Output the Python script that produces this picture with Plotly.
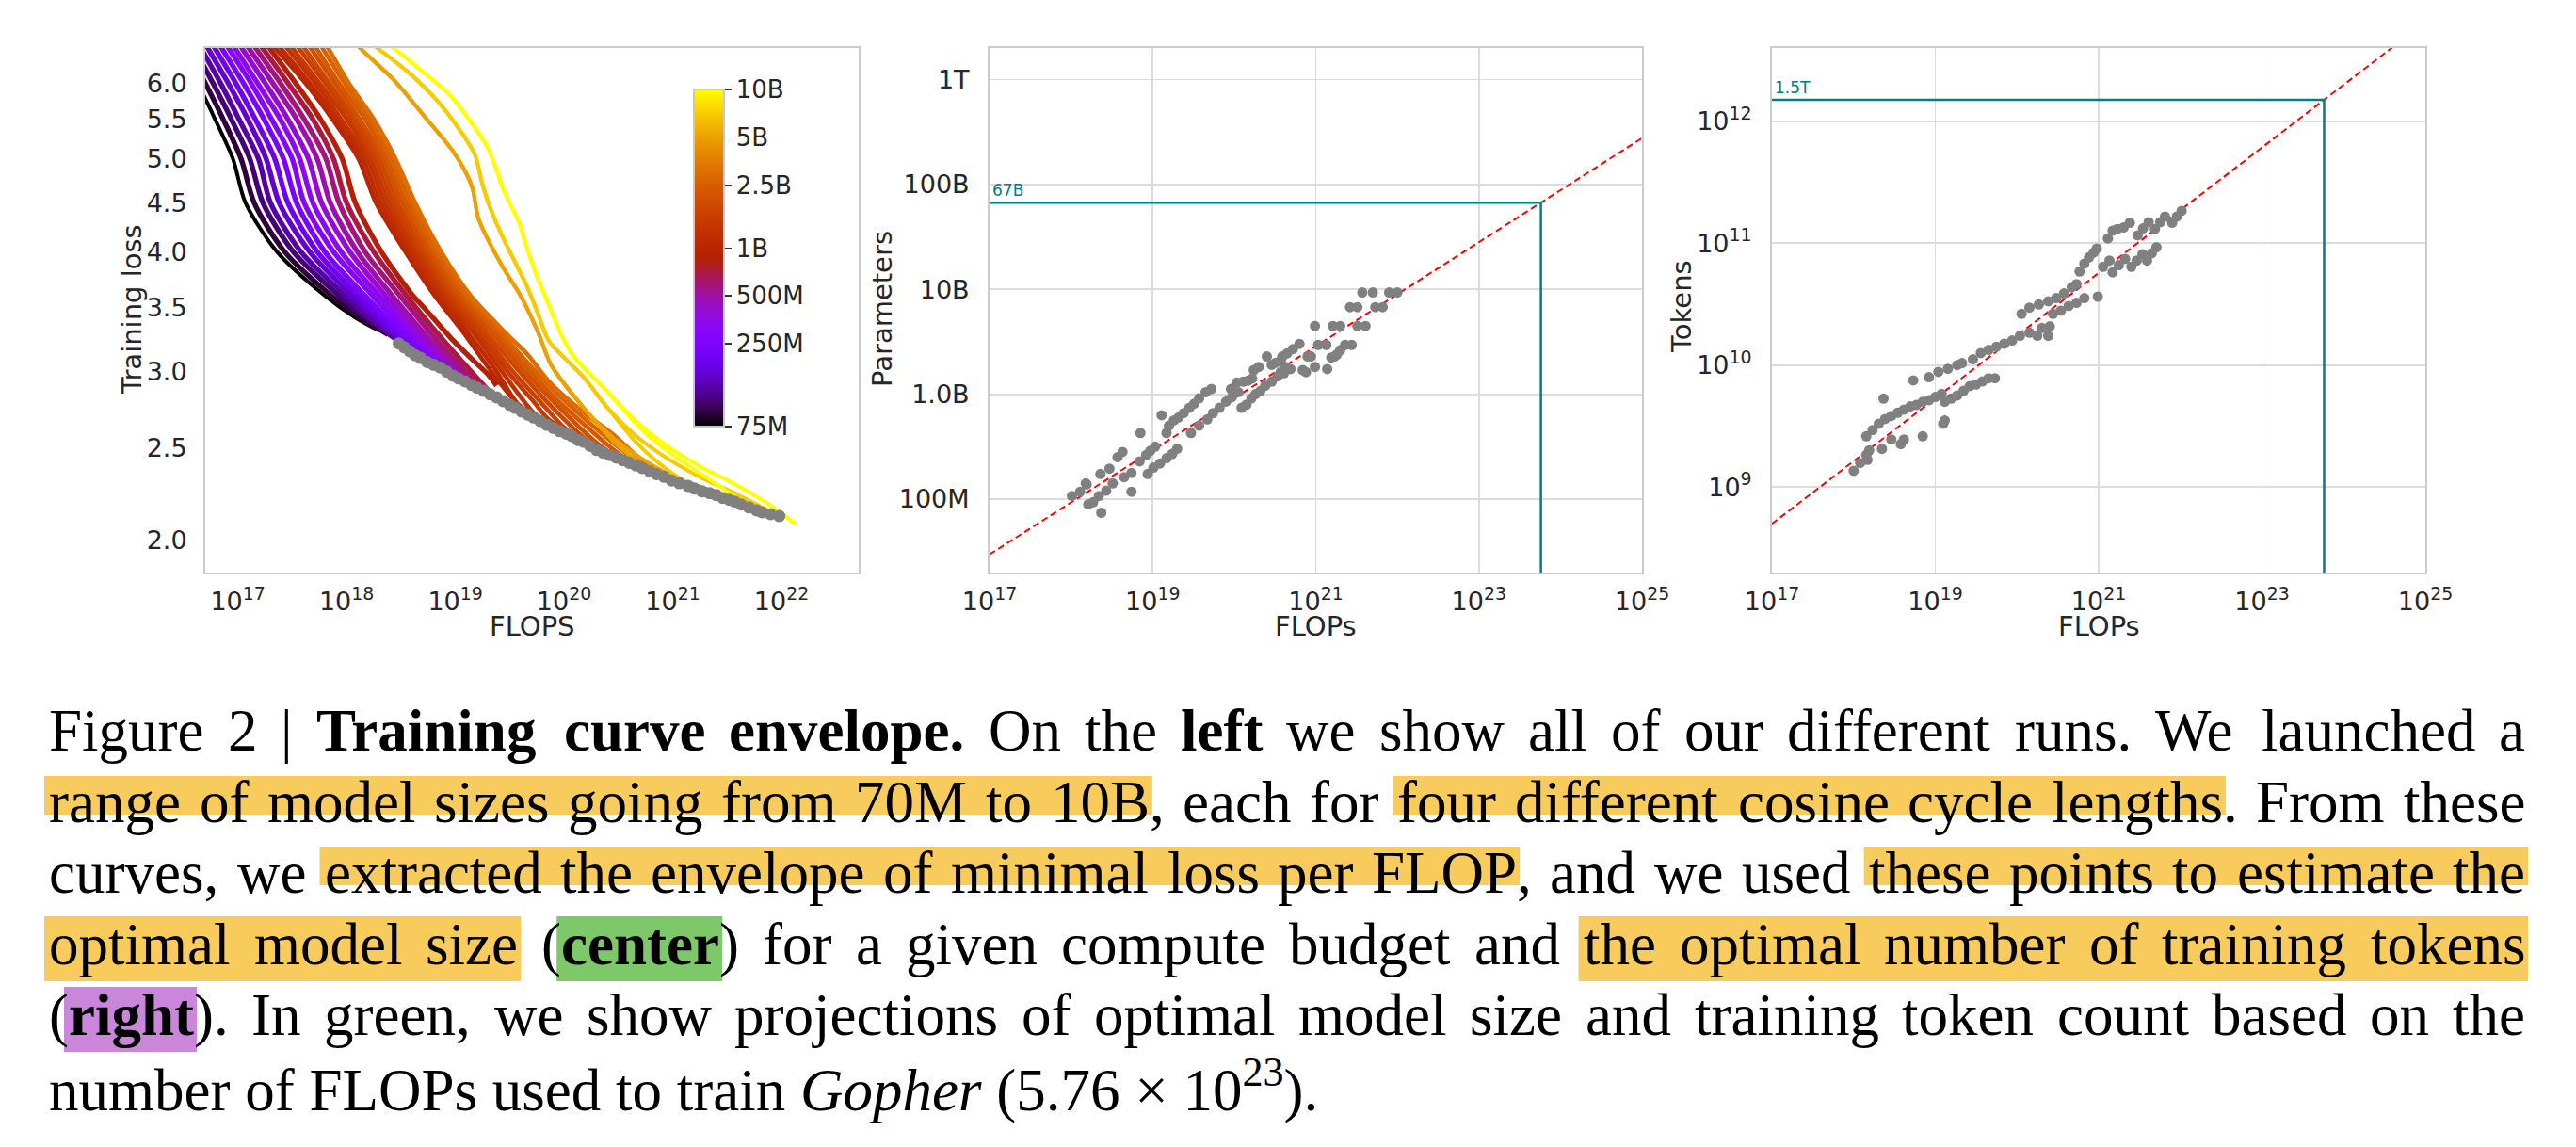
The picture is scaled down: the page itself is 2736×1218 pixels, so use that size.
import math
import re
import plotly.graph_objects as go

W, H = 2736, 1218

# ---------------- LEFT PANEL DATA ----------------
UPPER_LOSS_LEVELS = [6.8, 6.0, 5.5, 5.0, 4.5, 4.0, 3.6]

C1_SIZES_M = [75, 90, 109, 131, 158, 191, 230, 277, 334, 402, 485, 584, 704, 850]
C1_UPPER_LOG_FLOPS = [
    [16.39, 16.63, 16.79, 16.955, 17.07, 17.36, 17.80],
    [16.45, 16.70, 16.865, 17.03, 17.15, 17.43, 17.86],
    [16.51, 16.77, 16.94, 17.11, 17.23, 17.51, 17.93],
    [16.57, 16.84, 17.01, 17.19, 17.30, 17.58, 17.99],
    [16.63, 16.91, 17.09, 17.26, 17.38, 17.66, 18.05],
    [16.69, 16.98, 17.16, 17.34, 17.46, 17.73, 18.11],
    [16.75, 17.05, 17.24, 17.42, 17.54, 17.80, 18.17],
    [16.81, 17.12, 17.31, 17.50, 17.61, 17.88, 18.24],
    [16.87, 17.18, 17.39, 17.57, 17.69, 17.95, 18.30],
    [16.93, 17.25, 17.46, 17.65, 17.77, 18.03, 18.36],
    [16.99, 17.32, 17.54, 17.73, 17.85, 18.10, 18.42],
    [17.05, 17.39, 17.61, 17.81, 17.93, 18.17, 18.49],
    [17.11, 17.46, 17.69, 17.88, 18.00, 18.25, 18.55],
    [17.17, 17.53, 17.76, 17.96, 18.08, 18.32, 18.61],
]
C1_TAIL_LOG_FLOPS = [
    [18.09, 18.30], [18.12, 18.38], [18.20, 18.47], [18.27, 18.55],
    [18.34, 18.63], [18.415, 18.72], [18.485, 18.80], [18.56, 18.88],
    [18.63, 18.96], [18.705, 19.05], [18.775, 19.13], [18.85, 19.21],
    [18.925, 19.30], [18.72, 18.95, 19.18, 19.30, 19.38],
]
C1_TAIL_LOSS = [
    [3.41, 3.31], [3.42, 3.28], [3.40, 3.235], [3.37, 3.19],
    [3.35, 3.14], [3.325, 3.10], [3.31, 3.07], [3.29, 3.04],
    [3.27, 3.00], [3.25, 2.96], [3.23, 2.93], [3.215, 2.90],
    [3.20, 2.87], [3.49, 3.26, 3.07, 2.98, 2.90],
]

C2_SIZES_M = [1000, 1130, 1277, 1443, 1630, 1842, 2081, 2352, 2657, 3000]
C2_UPPER_LOG_FLOPS = [
    [17.20, 17.62, 17.87, 18.11, 18.27, 18.54, 18.81],
    [17.26, 17.66, 17.91, 18.15, 18.31, 18.58, 18.85],
    [17.32, 17.71, 17.95, 18.19, 18.35, 18.61, 18.88],
    [17.38, 17.75, 18.00, 18.22, 18.39, 18.65, 18.92],
    [17.44, 17.80, 18.04, 18.26, 18.43, 18.69, 18.96],
    [17.50, 17.84, 18.08, 18.30, 18.47, 18.72, 18.99],
    [17.56, 17.89, 18.12, 18.34, 18.51, 18.76, 19.03],
    [17.62, 17.93, 18.17, 18.37, 18.55, 18.80, 19.07],
    [17.68, 17.98, 18.21, 18.41, 18.59, 18.83, 19.10],
    [17.74, 18.02, 18.25, 18.45, 18.63, 18.87, 19.14],
]
C2_TAIL_LOG_FLOPS = [
    [19.07, 19.24, 19.36, 19.55],
    [19.11, 19.38, 19.57, 19.69],
    [19.16, 19.43, 19.71, 19.83],
    [19.20, 19.48, 19.71, 19.85, 19.97],
    [19.24, 19.53, 19.77, 19.99, 20.11],
    [19.28, 19.59, 19.83, 20.14, 20.26],
    [19.33, 19.64, 19.89, 20.28, 20.40],
    [19.37, 19.69, 19.94, 20.42, 20.54],
    [19.41, 19.74, 20.00, 20.56, 20.68],
    [19.30, 19.50, 19.66, 19.86, 20.18, 20.45, 20.65, 20.82],
]
C2_TAIL_LOSS = [
    [3.30, 3.10, 2.97, 2.79],
    [3.30, 3.00, 2.78, 2.72],
    [3.30, 3.00, 2.725, 2.665],
    [3.30, 3.00, 2.80, 2.68, 2.62],
    [3.30, 3.00, 2.80, 2.63, 2.57],
    [3.30, 3.00, 2.80, 2.585, 2.525],
    [3.30, 3.00, 2.80, 2.54, 2.48],
    [3.30, 3.00, 2.80, 2.505, 2.445],
    [3.30, 3.00, 2.80, 2.47, 2.41],
    [3.44, 3.26, 3.13, 2.93, 2.72, 2.58, 2.46, 2.37],
]

BIG_SIZES_M = [5000, 5000, 7000, 7000, 10000, 10000]
BIG_LOG_FLOPS = [
    [17.97, 18.12, 18.43, 18.72, 18.98, 19.10, 19.16, 19.21, 19.30, 19.44, 19.60, 19.76, 19.88, 20.18, 20.45, 20.72, 21.00],
    [17.97, 18.12, 18.43, 18.72, 18.98, 19.10, 19.16, 19.21, 19.30, 19.44, 19.60, 19.76, 19.88, 20.18, 20.45, 20.75, 21.05, 21.35],
    [18.07, 18.28, 18.58, 18.84, 19.04, 19.18, 19.24, 19.30, 19.42, 19.56, 19.66, 19.76, 19.86, 20.18, 20.40, 20.68, 20.95, 21.22, 21.48],
    [18.07, 18.28, 18.58, 18.84, 19.04, 19.18, 19.24, 19.30, 19.42, 19.56, 19.66, 19.76, 19.86, 20.18, 20.40, 20.70, 20.99, 21.28, 21.57, 21.86, 21.98],
    [18.22, 18.43, 18.72, 18.95, 19.155, 19.30, 19.39, 19.44, 19.59, 19.66, 19.76, 19.87, 19.99, 20.10, 20.41, 20.70, 20.99, 21.28, 21.55, 21.75],
    [18.22, 18.43, 18.72, 18.95, 19.155, 19.30, 19.39, 19.44, 19.59, 19.66, 19.76, 19.87, 19.99, 20.10, 20.41, 20.70, 20.99, 21.28, 21.57, 21.86, 22.13],
]
BIG_LOSS = [
    [6.8, 6.53, 6.05, 5.53, 5.09, 4.83, 4.65, 4.34, 4.12, 3.85, 3.60, 3.30, 3.05, 2.75, 2.54, 2.40, 2.32],
    [6.8, 6.53, 6.05, 5.53, 5.09, 4.83, 4.65, 4.34, 4.12, 3.85, 3.60, 3.30, 3.05, 2.75, 2.56, 2.42, 2.32, 2.255],
    [6.8, 6.53, 6.14, 5.74, 5.36, 5.05, 4.75, 4.51, 4.18, 3.88, 3.68, 3.45, 3.23, 2.96, 2.75, 2.52, 2.37, 2.27, 2.22],
    [6.8, 6.53, 6.14, 5.74, 5.36, 5.05, 4.75, 4.51, 4.18, 3.88, 3.68, 3.45, 3.23, 2.96, 2.75, 2.55, 2.42, 2.32, 2.24, 2.155, 2.12],
    [6.8, 6.53, 6.14, 5.83, 5.44, 5.13, 4.83, 4.65, 4.28, 4.03, 3.75, 3.50, 3.25, 3.10, 2.85, 2.62, 2.46, 2.34, 2.23, 2.16],
    [6.8, 6.53, 6.14, 5.83, 5.44, 5.13, 4.83, 4.65, 4.28, 4.03, 3.75, 3.50, 3.25, 3.10, 2.85, 2.64, 2.49, 2.38, 2.29, 2.19, 2.08],
]

ENVELOPE_LOG_FLOPS = [
    18.48, 18.53, 18.58, 18.63, 18.68, 18.74, 18.80, 18.86, 18.92, 18.98,
    19.03, 19.09, 19.15, 19.20, 19.26, 19.32, 19.38, 19.44, 19.50, 19.55,
    19.61, 19.67, 19.72, 19.78, 19.84, 19.90, 19.96, 20.02, 20.07, 20.13,
    20.18, 20.24, 20.30, 20.36, 20.42, 20.48, 20.54, 20.60, 20.66, 20.72,
    20.79, 20.85, 20.92, 20.99, 21.06, 21.14, 21.20, 21.27, 21.34, 21.40,
    21.46, 21.52, 21.57, 21.63, 21.70, 21.77, 21.82, 21.90, 21.98,
]
ENVELOPE_LOSS = [
    3.21, 3.18, 3.15, 3.12, 3.10, 3.07, 3.05, 3.03, 3.00, 2.97,
    2.95, 2.93, 2.905, 2.886, 2.865, 2.84, 2.82, 2.795, 2.77, 2.75,
    2.725, 2.705, 2.687, 2.665, 2.64, 2.62, 2.60, 2.585, 2.57, 2.545,
    2.535, 2.51, 2.485, 2.47, 2.455, 2.44, 2.425, 2.41, 2.395, 2.38,
    2.36, 2.345, 2.33, 2.31, 2.295, 2.28, 2.265, 2.25, 2.24, 2.23,
    2.215, 2.205, 2.195, 2.18, 2.165, 2.15, 2.14, 2.13, 2.12,
]

LOSS_TICKS = [2.0, 2.5, 3.0, 3.5, 4.0, 4.5, 5.0, 5.5, 6.0]
LEFT_X_TICK_EXP = [17, 18, 19, 20, 21, 22]
CBAR_TICK_SIZES_M = [75, 250, 500, 1000, 2500, 5000, 10000]
CBAR_TICK_TEXT = ["75M", "250M", "500M", "1B", "2.5B", "5B", "10B"]

# ---------------- CENTER PANEL DATA (log10 FLOPs, log10 parameters) ----------------
MID_LOG_FLOPS = [
    18.01, 18.11, 18.19, 18.21, 18.27, 18.37, 18.18, 18.34, 18.43, 18.51,
    18.65, 18.74, 18.74, 18.47, 18.36, 18.57, 18.63, 18.84, 18.92, 18.97,
    19.03, 18.85, 18.94, 19.01, 19.09, 19.17, 19.24, 19.30, 19.11, 19.17,
    19.20, 19.26, 19.32, 19.38, 19.45, 19.51, 19.57, 19.65, 19.72, 19.47,
    19.57, 19.67, 19.74, 19.82, 19.90, 19.97, 20.05, 19.96, 20.03, 20.11,
    20.17, 20.22, 20.24, 20.30, 20.40, 20.46, 20.51, 20.57, 20.59, 20.65,
    20.72, 20.80, 20.09, 20.15, 20.21, 20.26, 20.32, 20.38, 20.46, 20.53,
    20.61, 20.69, 20.63, 20.57, 20.84, 20.88, 20.99, 21.14, 20.90, 20.94,
    21.19, 21.23, 21.26, 21.30, 21.03, 21.13, 21.36, 21.44, 20.99, 21.21,
    21.30, 21.51, 21.61, 21.42, 21.51, 21.73, 21.82, 21.57, 21.70, 21.90,
    22.00,
]
MID_LOG_PARAMS = [
    8.03, 8.07, 8.14, 7.95, 7.97, 7.87, 8.15, 8.03, 8.08, 8.15,
    8.21, 8.25, 8.07, 8.29, 8.24, 8.40, 8.45, 8.36, 8.42, 8.46,
    8.50, 8.63, 8.24, 8.30, 8.34, 8.39, 8.43, 8.48, 8.80, 8.63,
    8.70, 8.75, 8.78, 8.82, 8.87, 8.91, 8.96, 9.02, 9.05, 8.63,
    8.70, 8.76, 8.82, 8.87, 8.93, 8.97, 9.02, 9.05, 9.11, 9.12,
    9.13, 9.15, 9.23, 9.26, 9.36, 9.28, 9.30, 9.32, 9.36, 9.39,
    9.43, 9.48, 8.87, 8.90, 8.96, 9.00, 9.03, 9.08, 9.12, 9.17,
    9.20, 9.24, 9.26, 9.21, 9.23, 9.21, 9.26, 9.24, 9.36, 9.36,
    9.35, 9.36, 9.38, 9.42, 9.47, 9.47, 9.47, 9.47, 9.65, 9.65,
    9.65, 9.65, 9.65, 9.83, 9.83, 9.83, 9.83, 9.97, 9.97, 9.97,
    9.97,
]

# ---------------- RIGHT PANEL DATA (log10 FLOPs, log10 tokens) ----------------
RIGHT_LOG_FLOPS = [
    18.00, 18.08, 18.155, 18.19, 18.17,
    18.347, 18.462, 18.577, 18.616, 18.846, 19.096, 19.115,
    18.155, 18.232, 18.308, 18.385, 18.462, 18.539, 18.616, 18.693, 18.769, 18.846, 18.923, 19.00, 19.077,
    18.366, 18.731,
    18.923, 19.038, 19.154, 19.269, 19.327,
    19.115, 19.192, 19.269, 19.346, 19.423, 19.499, 19.576, 19.653, 19.730,
    19.461, 19.557, 19.653, 19.749, 19.845, 19.941, 20.037, 20.153, 20.249, 20.383, 20.402, 20.306,
    20.056, 20.153, 20.268, 20.383, 20.479, 20.575, 20.671, 20.729,
    20.441, 20.537, 20.633, 20.729, 20.825,
    20.990,
    20.767, 20.825, 20.882, 20.940, 20.978,
    21.171, 21.247, 21.324, 21.055, 21.132,
    21.401, 21.466, 21.536,
    21.593, 21.651, 21.708,
    21.113, 21.171, 21.228, 21.305, 21.382,
    21.478, 21.543, 21.612,
    21.689, 21.754, 21.812,
    21.900, 21.958, 22.016,
]
RIGHT_LOG_TOKENS = [
    9.134, 9.198, 9.263, 9.301, 9.224,
    9.314, 9.391, 9.353, 9.391, 9.417, 9.520, 9.546,
    9.417, 9.468, 9.520, 9.559, 9.584, 9.610, 9.636, 9.662, 9.674, 9.700, 9.713, 9.739, 9.764,
    9.726, 9.875,
    9.901, 9.945, 9.970, 10.001, 10.017,
    9.700, 9.726, 9.752, 9.790, 9.829, 9.842, 9.867, 9.893, 9.893,
    10.048, 10.099, 10.125, 10.151, 10.176, 10.202, 10.241, 10.266, 10.241, 10.241, 10.318, 10.305,
    10.421, 10.472, 10.498, 10.524, 10.550, 10.588, 10.640, 10.665,
    10.421, 10.447, 10.485, 10.511, 10.550,
    10.562,
    10.768, 10.833, 10.884, 10.923, 10.956,
    10.761, 10.820, 10.871, 10.807, 10.858,
    10.807, 10.858, 10.910,
    10.858, 10.918, 10.967,
    11.039, 11.103, 11.116, 11.129, 11.167,
    11.064, 11.121, 11.172,
    11.116, 11.172, 11.219,
    11.167, 11.219, 11.265,
]

FIT_FLOPS = [1e17, 1e25]
FIT_PARAMS = [2.97e7, 2.76e11]
FIT_TOKENS = [5.0e8, 6.5e12]
GOPHER_FLOPS = 5.76e23
OPT_PARAMS = 67e9
OPT_TOKENS = 1.5e12
OPT_PARAMS_LABEL = "67B"
OPT_TOKENS_LABEL = "1.5T"
WIDE_X_TICK_EXP = [17, 19, 21, 23, 25]
PARAM_TICKS = [1e8, 1e9, 1e10, 1e11, 1e12]
PARAM_TICK_TEXT = ["100M", "1.0B", "10B", "100B", "1T"]
TOKEN_TICK_EXP = [9, 10, 11, 12]

# ---------------- caption text ----------------
CAPTION_JUSTIFIED_LINES = [
    "Figure 2 | <b>Training curve envelope.</b> On the <b>left</b> we show all of our different runs. We launched a",
    "<y>range of model sizes going from 70M to 10B</y>, each for <y>four different cosine cycle lengths</y>. From these",
    "curves, we <y>extracted the envelope of minimal loss per FLOP</y>, and we used <y>these points to estimate the</y>",
    "<y>optimal model size</y> (<g><b>center</b></g>) for a given compute budget and <y>the optimal number of training tokens</y>",
    "(<p><b>right</b></p>). In green, we show projections of optimal model size and training token count based on the",
]
CAPTION_LAST_LINE = "number of FLOPs used to train <i>Gopher</i> (5.76 × 10<sup>23</sup>)."

# ---------------- helpers ----------------
LOG_MIN, LOG_MAX = math.log10(75), math.log10(10000)


def gnuplot(t):
    t = min(max(t, 0.0), 1.0)
    r = math.sqrt(t)
    g = t ** 3
    b = max(0.0, math.sin(2 * math.pi * t))
    return "rgb(%d,%d,%d)" % (round(255 * r), round(255 * g), round(255 * b))


def size_color(size_m):
    return gnuplot((math.log10(size_m) - LOG_MIN) / (LOG_MAX - LOG_MIN))


def px(xp):
    return xp / W


def py(yp):
    return 1 - yp / H


fig = go.Figure()

TXT = "#262626"
SPINE = "#cccccc"
GRID = "#dcdcdc"
TEAL = "#008080"


def add_curve(logc, loss, size_m, width):
    fig.add_trace(go.Scatter(
        x=[10 ** v for v in logc], y=loss, mode="lines",
        line=dict(color=size_color(size_m), width=width, shape="spline", smoothing=0.8),
        xaxis="x", yaxis="y", hoverinfo="skip", showlegend=False))


for i, s in enumerate(C1_SIZES_M):
    add_curve(C1_UPPER_LOG_FLOPS[i] + C1_TAIL_LOG_FLOPS[i], UPPER_LOSS_LEVELS + C1_TAIL_LOSS[i], s,
              4.0 if i == 0 else 5.4)
for i, s in enumerate(C2_SIZES_M):
    add_curve(C2_UPPER_LOG_FLOPS[i] + C2_TAIL_LOG_FLOPS[i], UPPER_LOSS_LEVELS + C2_TAIL_LOSS[i], s, 4.6)
for i, s in enumerate(BIG_SIZES_M):
    add_curve(BIG_LOG_FLOPS[i], BIG_LOSS[i], s, 4.0)

fig.add_trace(go.Scatter(
    x=[10 ** v for v in ENVELOPE_LOG_FLOPS], y=ENVELOPE_LOSS, mode="markers",
    marker=dict(color="#808080", size=13, line=dict(width=0)),
    xaxis="x", yaxis="y", hoverinfo="skip", showlegend=False))

cscale = [[k / 20, gnuplot(k / 20)] for k in range(21)]
fig.add_trace(go.Scatter(
    x=[None], y=[None], mode="markers", xaxis="x", yaxis="y", showlegend=False,
    marker=dict(color=[LOG_MIN + 6], colorscale=cscale,
                cmin=LOG_MIN + 6, cmax=LOG_MAX + 6, showscale=True,
                colorbar=dict(
                    x=px(737), xanchor="left", y=py(274), yanchor="middle",
                    thickness=32, thicknessmode="pixels", len=358, lenmode="pixels",
                    xpad=0, ypad=0, outlinecolor="#c8c8c8", outlinewidth=2,
                    tickvals=[math.log10(v) + 6 for v in CBAR_TICK_SIZES_M],
                    ticktext=CBAR_TICK_TEXT, ticks="outside", ticklen=7, tickwidth=1.5,
                    tickcolor="#333333",
                    tickfont=dict(family="DejaVu Sans", size=26, color=TXT)))))

fig.add_trace(go.Scatter(x=FIT_FLOPS, y=FIT_PARAMS, mode="lines", xaxis="x2", yaxis="y2",
                         line=dict(color="red", width=2, dash="7px,4px"), hoverinfo="skip", showlegend=False))
fig.add_trace(go.Scatter(x=[FIT_FLOPS[0], GOPHER_FLOPS, GOPHER_FLOPS], y=[OPT_PARAMS, OPT_PARAMS, 1e6],
                         mode="lines", xaxis="x2", yaxis="y2", line=dict(color=TEAL, width=2.5),
                         hoverinfo="skip", showlegend=False))
fig.add_trace(go.Scatter(x=[10 ** v for v in MID_LOG_FLOPS], y=[10 ** v for v in MID_LOG_PARAMS],
                         mode="markers", xaxis="x2", yaxis="y2",
                         marker=dict(color="#808080", size=11, line=dict(width=0)),
                         hoverinfo="skip", showlegend=False))

fig.add_trace(go.Scatter(x=FIT_FLOPS, y=FIT_TOKENS, mode="lines", xaxis="x3", yaxis="y3",
                         line=dict(color="red", width=2, dash="7px,4px"), hoverinfo="skip", showlegend=False))
fig.add_trace(go.Scatter(x=[FIT_FLOPS[0], GOPHER_FLOPS, GOPHER_FLOPS], y=[OPT_TOKENS, OPT_TOKENS, 1e7],
                         mode="lines", xaxis="x3", yaxis="y3", line=dict(color=TEAL, width=2.5),
                         hoverinfo="skip", showlegend=False))
fig.add_trace(go.Scatter(x=[10 ** v for v in RIGHT_LOG_FLOPS], y=[10 ** v for v in RIGHT_LOG_TOKENS],
                         mode="markers", xaxis="x3", yaxis="y3",
                         marker=dict(color="#808080", size=11, line=dict(width=0)),
                         hoverinfo="skip", showlegend=False))

TICKFONT = dict(family="DejaVu Sans", size=27, color=TXT)
Y_DOM = [py(608), py(51)]


def ax(domain, rng, tickvals, ticktext, grid, anchor, standoff):
    return dict(domain=domain, type="log", range=rng, tickvals=tickvals, ticktext=ticktext,
                showgrid=grid, gridcolor=GRID, gridwidth=1.8, zeroline=False, showline=True,
                linecolor=SPINE, linewidth=2, mirror=True, ticks="", tickfont=TICKFONT,
                anchor=anchor, ticklabelstandoff=standoff, fixedrange=True, automargin=False)


def sup(e):
    return "10<sup>%d</sup>" % e


fig.update_layout(
    width=W, height=H, margin=dict(l=0, r=0, t=0, b=0, pad=0, autoexpand=False),
    paper_bgcolor="white", plot_bgcolor="white", showlegend=False,
    xaxis=ax([px(218), px(912)], [16.70, 22.71], [10.0 ** e for e in LEFT_X_TICK_EXP],
             [sup(e) for e in LEFT_X_TICK_EXP], False, "y", 6),
    yaxis=ax(Y_DOM, [0.2675, 0.8146], LOSS_TICKS, ["%.1f" % v for v in LOSS_TICKS], False, "x", 12),
    xaxis2=ax([px(1051), px(1744)], [17, 25], [10.0 ** e for e in WIDE_X_TICK_EXP],
              [sup(e) for e in WIDE_X_TICK_EXP], True, "y2", 6),
    yaxis2=ax(Y_DOM, [7.30, 12.30], PARAM_TICKS, PARAM_TICK_TEXT, True, "x2", 14),
    xaxis3=ax([px(1882), px(2576)], [17, 25], [10.0 ** e for e in WIDE_X_TICK_EXP],
              [sup(e) for e in WIDE_X_TICK_EXP], True, "y3", 6),
    yaxis3=ax(Y_DOM, [8.30, 12.60], [10.0 ** e for e in TOKEN_TICK_EXP],
              [sup(e) for e in TOKEN_TICK_EXP], True, "x3", 14),
)

annots = []
TITLEFONT = dict(family="DejaVu Sans", size=29, color=TXT)
for txt, x, y, ang in [("Training loss", 140, 329, -90), ("FLOPS", 565, 665, 0),
                       ("Parameters", 937, 328, -90), ("FLOPs", 1397, 665, 0),
                       ("Tokens", 1786, 326, -90), ("FLOPs", 2229, 665, 0)]:
    annots.append(dict(text=txt, x=px(x), y=py(y), xref="paper", yref="paper", showarrow=False,
                       textangle=ang, font=TITLEFONT, xanchor="center", yanchor="middle"))

annots.append(dict(text=OPT_PARAMS_LABEL, xref="x2", yref="y2", x=17.0, y=math.log10(OPT_PARAMS),
                   xanchor="left", yanchor="bottom", showarrow=False, xshift=1, yshift=1,
                   font=dict(family="DejaVu Sans", size=17, color=TEAL)))
annots.append(dict(text=OPT_TOKENS_LABEL, xref="x3", yref="y3", x=17.0, y=math.log10(OPT_TOKENS),
                   xanchor="left", yanchor="bottom", showarrow=False, xshift=1, yshift=1,
                   font=dict(family="DejaVu Sans", size=17, color=TEAL)))

# ---------------- caption layout (Times metrics = Liberation Serif) ----------------
CAP_F = 63
CAP_LEFT, CAP_RIGHT = 52, 2682
BASELINES = [797, 873, 948, 1024, 1099, 1175]
HL_COLORS = {"y": "#f8cb5d", "g": "#7dc96a", "p": "#c986db"}
HL_VERT = {1: (-49, -8), 2: (-49, -8), 3: (-51, 18), 4: (-51, 18)}

_R = dict(zip(" !(),-.|0123456789:;", [250, 333, 333, 333, 250, 333, 250, 200] + [500] * 10 + [278, 278]))
_R.update(dict(zip("ABCDEFGHIJKLMNOPQRSTUVWXYZ",
                   [722, 667, 667, 722, 611, 556, 722, 722, 333, 389, 722, 611, 889, 722, 722, 556, 722, 667, 556, 611, 722, 722, 944, 722, 722, 611])))
_R.update(dict(zip("abcdefghijklmnopqrstuvwxyz",
                   [444, 500, 444, 500, 444, 333, 500, 500, 278, 278, 500, 278, 778, 500, 500, 500, 500, 333, 389, 278, 500, 500, 722, 500, 500, 444])))
_B = dict(_R)
_B.update(dict(zip("abcdefghijklmnopqrstuvwxyz",
                   [500, 556, 444, 556, 444, 333, 500, 556, 278, 333, 556, 278, 833, 556, 500, 556, 556, 444, 389, 333, 556, 500, 722, 500, 500, 444])))
_B.update({"T": 667, ".": 250})


def run_width(text, bold):
    tab = _B if bold else _R
    return sum(tab.get(c, 500) for c in text) * CAP_F / 1000.0


def parse_line(line):
    chars = []
    bold, hl, i = False, None, 0
    while i < len(line):
        m = re.match(r"</?(b|y|g|p)>", line[i:])
        if m:
            tag = m.group(1)
            closing = m.group(0).startswith("</")
            if tag == "b":
                bold = not closing
            else:
                hl = None if closing else tag
            i += len(m.group(0))
            continue
        chars.append((line[i], bold, hl))
        i += 1
    words, cur = [], []
    for c in chars:
        if c[0] == " ":
            if cur:
                words.append(cur)
            cur = []
        else:
            cur.append(c)
    if cur:
        words.append(cur)
    out = []
    for w in words:
        runs = []
        for ch, b, h in w:
            if runs and runs[-1][1] == b and runs[-1][2] == h:
                runs[-1][0] += ch
            else:
                runs.append([ch, b, h])
        out.append(runs)
    return out


shapes = []
for li, line in enumerate(CAPTION_JUSTIFIED_LINES):
    words = parse_line(line)
    widths = [sum(run_width(r[0], r[1]) for r in w) for w in words]
    gap = (CAP_RIGHT - CAP_LEFT - sum(widths)) / (len(words) - 1)
    x = CAP_LEFT
    placed = []
    for w, wd in zip(words, widths):
        rx = x
        for text, b, h in w:
            rw = run_width(text, b)
            placed.append((rx, rw, text, b, h))
            rx += rw
        x += wd + gap
    ycen = BASELINES[li] - 0.34 * CAP_F
    for rx, rw, text, b, h in placed:
        annots.append(dict(text=("<b>%s</b>" % text) if b else text, xref="paper", yref="paper",
                           x=px(rx), y=py(ycen), xanchor="left", yanchor="middle", showarrow=False,
                           borderpad=0, borderwidth=0,
                           font=dict(family="Liberation Serif", size=CAP_F, color="black")))
    groups = []
    for rx, rw, text, b, h in placed:
        if h and groups and groups[-1][0] == h and groups[-1][3]:
            groups[-1][2] = rx + rw
        elif h:
            groups.append([h, rx, rx + rw, True])
        else:
            if groups:
                groups[-1][3] = False
    for h, x0, x1, _ in groups:
        t, btm = HL_VERT[li]
        shapes.append(dict(type="rect", xref="paper", yref="paper", x0=px(x0 - 5), x1=px(x1 + 3),
                           y0=py(BASELINES[li] + btm), y1=py(BASELINES[li] + t),
                           fillcolor=HL_COLORS[h], line=dict(width=0), layer="below"))

annots.append(dict(text=CAPTION_LAST_LINE, xref="paper", yref="paper", x=px(CAP_LEFT),
                   y=py(BASELINES[5] - 0.34 * CAP_F), xanchor="left", yanchor="middle", showarrow=False,
                   borderpad=0, borderwidth=0,
                   font=dict(family="Liberation Serif", size=CAP_F, color="black")))

fig.update_layout(annotations=annots, shapes=shapes)

fig.write_html("out.html", include_plotlyjs=True, full_html=True,
               config={"displayModeBar": False, "staticPlot": True},
               post_script="document.body.style.margin='0px';document.body.style.overflow='hidden';")
